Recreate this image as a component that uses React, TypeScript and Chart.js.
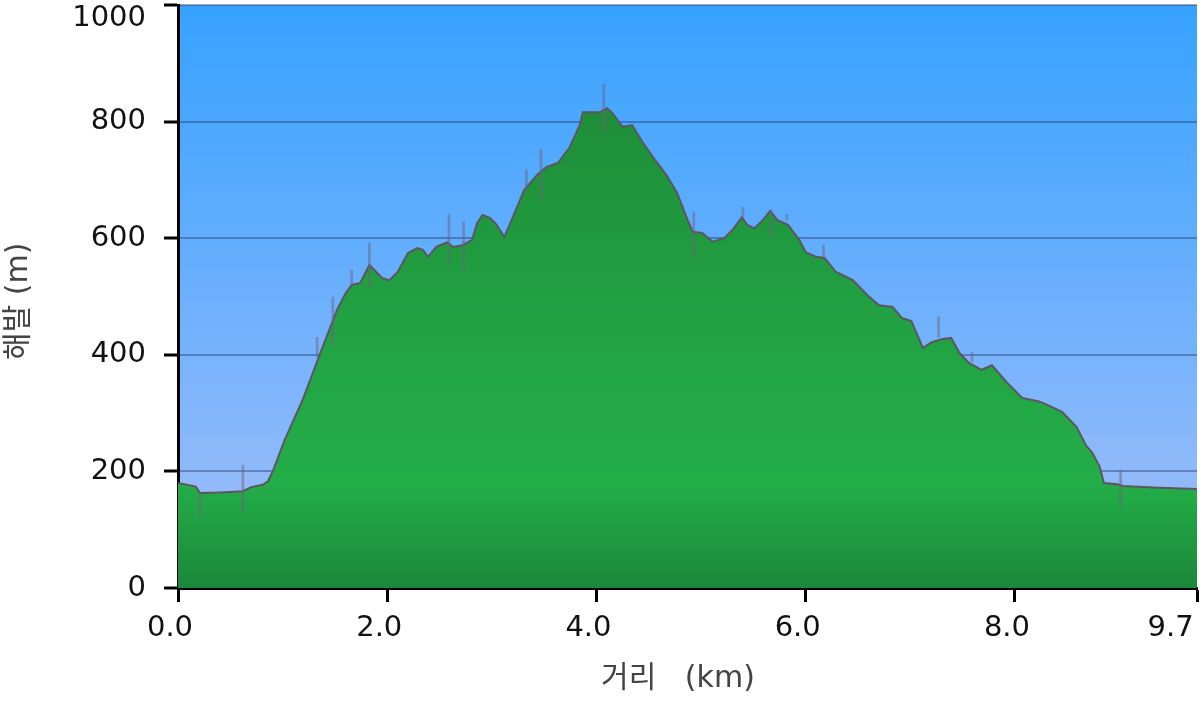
import React, { useEffect, useRef } from 'react';
import { Chart, registerables } from 'chart.js';

Chart.register(...registerables);

// Elevation profile: distance (km) and elevation (m)
const distanceKm = [
  0.00, 0.17, 0.21, 0.40, 0.62, 0.70, 0.81, 0.86, 0.91, 1.02, 1.19, 1.36, 1.52, 1.60, 1.66, 1.74,
  1.83, 1.95, 2.02, 2.10, 2.20, 2.29, 2.34, 2.39, 2.47, 2.57, 2.63, 2.72, 2.81, 2.86, 2.91, 2.98,
  3.04, 3.12, 3.20, 3.31, 3.43, 3.52, 3.63, 3.74, 3.84, 3.87, 3.96, 4.03, 4.10, 4.15, 4.25, 4.34,
  4.44, 4.54, 4.67, 4.77, 4.86, 4.92, 5.01, 5.11, 5.22, 5.30, 5.39, 5.44, 5.51, 5.59, 5.66, 5.73,
  5.83, 5.94, 6.00, 6.10, 6.18, 6.29, 6.45, 6.61, 6.70, 6.83, 6.92, 7.01, 7.12, 7.21, 7.31, 7.39,
  7.47, 7.56, 7.68, 7.78, 7.92, 8.07, 8.23, 8.31, 8.45, 8.59, 8.68, 8.74, 8.81, 8.85, 8.98, 9.03,
  9.38, 9.74,
];
const elevationM = [
  180, 174, 163, 164, 166, 173, 177, 183, 202, 254, 322, 403, 477, 505, 520, 523,
  554, 532, 528, 542, 575, 583, 580, 568, 585, 593, 585, 588, 597, 626, 640, 635,
  624, 602, 636, 683, 708, 722, 729, 755, 794, 816, 816, 816, 823, 815, 791, 794,
  765, 739, 708, 678, 636, 611, 609, 594, 600, 614, 636, 623, 617, 631, 647, 631,
  623, 597, 576, 568, 566, 542, 528, 499, 485, 482, 463, 458, 412, 422, 427, 429,
  403, 386, 374, 382, 353, 326, 320, 314, 302, 276, 244, 232, 208, 180, 178, 175,
  172, 170,
];

// GPS noise spikes (vertical thin marks)
const spikeKm = [0.21, 0.62, 1.33, 1.48, 1.66, 1.83, 2.59, 2.73, 3.33, 3.47, 4.07, 4.93, 5.40, 5.67, 5.82, 6.17, 7.27, 7.59, 9.01];
const spikeLow = [125, 130, 396, 417, 520, 516, 554, 542, 683, 665, 780, 568, 636, 602, 631, 568, 430, 388, 139];
const spikeHigh = [163, 211, 430, 499, 545, 592, 640, 628, 717, 753, 864, 645, 653, 648, 641, 588, 465, 405, 202];

const xMax = 9.74;
const xTickValues = [0, 2, 4, 6, 8, 9.74];
const yTickValues = [0, 200, 400, 600, 800, 1000];
const xTitle = '거리   (km)  ';
const yTitle = '해발 (m) ';

const skyPlugin = {
  id: 'sky',
  beforeDraw(chart: any) {
    const { ctx, chartArea: a } = chart;
    if (!a) return;
    const g = ctx.createLinearGradient(0, a.top, 0, a.bottom);
    g.addColorStop(0, '#36a2ff');
    g.addColorStop(0.5, '#6cb0fd');
    g.addColorStop(1, '#a6bff8');
    ctx.save();
    ctx.fillStyle = g;
    ctx.fillRect(a.left, a.top, a.right - a.left, a.bottom - a.top);
    ctx.restore();
  },
};

export default function App() {
  const ref = useRef<HTMLCanvasElement>(null);

  useEffect(() => {
    if (!ref.current) return;
    const chart = new Chart(ref.current, {
      type: 'line',
      data: {
        datasets: [
          {
            type: 'bar',
            data: spikeKm.map((x, i) => ({ x, y: [spikeLow[i], spikeHigh[i]] })) as any,
            backgroundColor: 'rgba(105,100,125,0.5)',
            barThickness: 2,
            grouped: false,
            order: 0,
          } as any,
          {
            type: 'line',
            data: distanceKm.map((x, i) => ({ x, y: elevationM[i] })),
            borderColor: '#5c5662',
            borderWidth: 2,
            pointRadius: 0,
            tension: 0,
            fill: 'start',
            order: 1,
            backgroundColor: (c: any) => {
              const ch = c.chart;
              const a = ch.chartArea;
              if (!a) return '#21a042';
              const g = ch.ctx.createLinearGradient(0, a.top, 0, a.bottom);
              g.addColorStop(0, '#1b8232');
              g.addColorStop(0.2, '#1e8f38');
              g.addColorStop(0.5, '#21a042');
              g.addColorStop(0.82, '#23ae48');
              g.addColorStop(1, '#1c873a');
              return g;
            },
          } as any,
        ],
      },
      options: {
        animation: false,
        responsive: true,
        maintainAspectRatio: false,
        layout: { padding: { top: 5, right: 3, left: 0, bottom: 0 } },
        plugins: { legend: { display: false }, tooltip: { enabled: false } },
        scales: {
          x: {
            type: 'linear',
            position: 'bottom',
            min: 0,
            max: xMax,
            offset: false,
            z: 1,
            afterBuildTicks: (s: any) => {
              s.ticks = xTickValues.map((v) => ({ value: v }));
            },
            afterFit: (s: any) => {
              s.height = 114;
              s.paddingLeft = 0;
              s.paddingRight = 0;
            },
            ticks: {
              autoSkip: false,
              maxRotation: 0,
              labelOffset: -8,
              padding: 9,
              color: '#111',
              font: { family: 'DejaVu Sans', size: 29 },
              callback: (v: any) => (v === xMax ? Number(v).toFixed(1) + '    ' : Number(v).toFixed(1)),
            },
            grid: {
              offset: false,
              drawOnChartArea: false,
              drawTicks: true,
              tickLength: 14,
              tickColor: '#000',
              tickWidth: 3,
            },
            border: { color: '#000', width: 3 },
            title: {
              display: true,
              text: xTitle,
              color: '#444',
              font: { family: 'DejaVu Sans, "Noto Sans CJK KR"', size: 30 },
              padding: { top: 0, bottom: 5 },
            },
          },
          y: {
            type: 'linear',
            min: 0,
            max: 1000,
            z: 1,
            afterBuildTicks: (s: any) => {
              s.ticks = yTickValues.map((v) => ({ value: v }));
            },
            afterFit: (s: any) => {
              s.width = 178;
              s.paddingTop = 0;
              s.paddingBottom = 0;
            },
            ticks: {
              padding: 18,
              color: '#111',
              font: { family: 'DejaVu Sans', size: 29, lineHeight: 0.9 },
              callback: (v: any) => (v === 1000 ? ['', '1000'] : String(v)),
            },
            grid: {
              color: 'rgba(30,40,90,0.38)',
              lineWidth: 2,
              tickColor: '#000',
              tickLength: 14,
              tickWidth: 3,
            },
            border: { color: '#000', width: 3 },
            title: {
              display: true,
              text: yTitle,
              color: '#444',
              font: { family: 'DejaVu Sans, "Noto Sans CJK KR"', size: 30 },
              padding: { top: 1, bottom: 0 },
            },
          },
        },
      } as any,
      plugins: [skyPlugin],
    });
    return () => chart.destroy();
  }, []);

  return (
    <div style={{ position: 'fixed', left: 0, top: 0, width: 1200, height: 702 }}>
      <canvas ref={ref} />
    </div>
  );
}
